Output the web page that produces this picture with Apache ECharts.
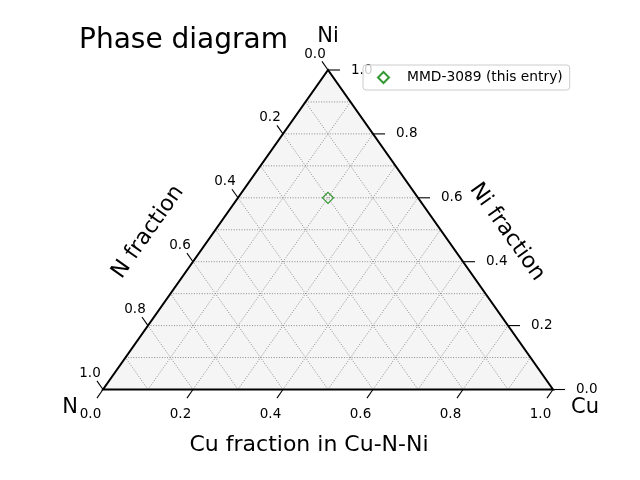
<!DOCTYPE html>
<html>
<head>
<meta charset="utf-8">
<script src="https://cdn.jsdelivr.net/npm/echarts@6/dist/echarts.min.js"></script>
<style>html,body{margin:0;padding:0;background:#fff}#chart{width:640px;height:480px}</style>
</head>
<body>
<div id="chart"></div>
<script>
// ---- data ----
const vertexNames = ['N', 'Cu', 'Ni'];
const tickValues = [0.0, 0.2, 0.4, 0.6, 0.8, 1.0];
const tickLabels = ['0.0', '0.2', '0.4', '0.6', '0.8', '1.0'];
const gridValues = [0.1, 0.2, 0.3, 0.4, 0.5, 0.6, 0.7, 0.8, 0.9];
const axisTitles = ['Cu fraction in Cu-N-Ni', 'N fraction', 'Ni fraction'];
const chartTitle = 'Phase diagram';
const entryNames = ['MMD-3089 (this entry)'];
const entryCu = [0.2];
const entryN = [0.2];
const entryNi = [0.6];

// ternary (Cu, Ni) -> cartesian data coords
function tern(cu, ni) { return [cu + 0.5 * ni, ni]; }

const FONT = 'DejaVu Sans';
const chart = echarts.init(document.getElementById('chart'), null, {renderer: 'canvas'});

function unit(a, b) {
  const dx = b[0] - a[0], dy = b[1] - a[1];
  const l = Math.sqrt(dx * dx + dy * dy);
  return [dx / l, dy / l];
}

// grid line items: [value, family]; family 0: Ni=v, 1: Cu=v, 2: N=v
const gridData = [];
[0, 1, 2].forEach(k => gridValues.forEach(v => gridData.push([v, k])));
// tick items: [value, axis, labelIndex]; axis 0: Cu (bottom), 1: Ni (right), 2: N (left)
const tickData = [];
[0, 1, 2].forEach(k => tickValues.forEach((v, i) => tickData.push([v, k, i])));

const option = {
  animation: false,
  backgroundColor: '#ffffff',
  title: {
    text: chartTitle, left: 79, top: 27, padding: 0,
    textStyle: {fontFamily: FONT, fontSize: 28, fontWeight: 'normal', color: '#000'}
  },
  legend: {
    data: [{name: entryNames[0], icon: 'diamond'}],
    left: 363, top: 65,
    padding: [5.5, 7, 5.5, 14],
    itemWidth: 11, itemHeight: 11,
    backgroundColor: 'rgba(255,255,255,0.8)',
    borderColor: '#cccccc', borderWidth: 1, borderRadius: 3,
    textStyle: {fontFamily: FONT, fontSize: 13.8, color: '#000', padding: [0, 0, 0, 13]},
    selectedMode: false,
    z: 20
  },
  grid: {left: 103, right: 87, top: 70, bottom: 90.5, containLabel: false},
  xAxis: {type: 'value', min: 0, max: 1, show: false},
  yAxis: {type: 'value', min: 0, max: 1, show: false},
  graphic: [
    {type: 'text', x: 328, y: 37, z: 10, style: {text: vertexNames[2], fontFamily: FONT, fontSize: 21, fill: '#000', align: 'center', verticalAlign: 'middle'}},
    {type: 'text', x: 70, y: 408, z: 10, style: {text: vertexNames[0], fontFamily: FONT, fontSize: 21, fill: '#000', align: 'center', verticalAlign: 'middle'}},
    {type: 'text', x: 585, y: 408, z: 10, style: {text: vertexNames[1], fontFamily: FONT, fontSize: 21, fill: '#000', align: 'center', verticalAlign: 'middle'}},
    {type: 'text', x: 309, y: 445.5, z: 10, style: {text: axisTitles[0], fontFamily: FONT, fontSize: 22, fill: '#000', align: 'center', verticalAlign: 'middle'}},
    {type: 'text', x: 148, y: 232, rotation: 54.74 * Math.PI / 180, z: 10, style: {text: axisTitles[1], fontFamily: FONT, fontSize: 22, fill: '#000', align: 'center', verticalAlign: 'middle'}},
    {type: 'text', x: 507, y: 232, rotation: -54.74 * Math.PI / 180, z: 10, style: {text: axisTitles[2], fontFamily: FONT, fontSize: 22, fill: '#000', align: 'center', verticalAlign: 'middle'}}
  ],
  series: [
    { // triangle fill
      type: 'custom', z: 1, silent: true, data: [[0]],
      renderItem: function (params, api) {
        const pts = [api.coord(tern(0, 0)), api.coord(tern(1, 0)), api.coord(tern(0, 1))];
        return {type: 'polygon', shape: {points: pts}, style: {fill: '#f5f5f5', stroke: 'none'}};
      }
    },
    { // dotted grid
      type: 'custom', z: 2, silent: true, data: gridData,
      renderItem: function (params, api) {
        const v = api.value(0), k = api.value(1);
        let a, b;
        if (k === 0) { a = tern(0, v); b = tern(1 - v, v); }
        else if (k === 1) { a = tern(v, 0); b = tern(v, 1 - v); }
        else { a = tern(1 - v, 0); b = tern(0, 1 - v); }
        const p = api.coord(a), q = api.coord(b);
        return {type: 'line', shape: {x1: p[0], y1: p[1], x2: q[0], y2: q[1]},
          style: {stroke: '#808080', lineWidth: 0.9, lineDash: [1, 1.6]}};
      }
    },
    { // triangle edges
      type: 'custom', z: 3, silent: true, data: [[0]],
      renderItem: function (params, api) {
        const pts = [api.coord(tern(0, 0)), api.coord(tern(1, 0)), api.coord(tern(0, 1))];
        return {type: 'polygon', shape: {points: pts}, style: {fill: 'none', stroke: '#000', lineWidth: 2}};
      }
    },
    { // ticks and tick labels
      type: 'custom', z: 3, silent: true, data: tickData,
      renderItem: function (params, api) {
        const v = api.value(0), k = api.value(1), li = api.value(2);
        const pN = api.coord(tern(0, 0)), pCu = api.coord(tern(1, 0)), pNi = api.coord(tern(0, 1));
        let base, dir, len, lx, ly, align;
        if (k === 0) {
          base = api.coord(tern(v, 0));
          dir = unit(pNi, pN); len = 10.5;
          lx = base[0] - 12.5; ly = base[1] + 24.5; align = 'center';
        } else if (k === 1) {
          base = api.coord(tern(1 - v, v));
          dir = [1, 0]; len = 12;
          lx = base[0] + 23; ly = base[1]; align = 'left';
        } else {
          base = api.coord(tern(0, 1 - v));
          dir = unit(pCu, pNi); len = 10.5;
          lx = base[0] - 13; ly = base[1] - 16; align = 'center';
        }
        return {type: 'group', children: [
          {type: 'line', shape: {x1: base[0], y1: base[1], x2: base[0] + dir[0] * len, y2: base[1] + dir[1] * len},
            style: {stroke: '#000', lineWidth: 1.1}},
          {type: 'text', x: lx, y: ly,
            style: {text: tickLabels[li], fontFamily: FONT, fontSize: 13.5, fill: '#000', align: align, verticalAlign: 'middle'}}
        ]};
      }
    },
    {
      name: entryNames[0], type: 'scatter', z: 5,
      symbol: 'diamond', symbolSize: 11,
      itemStyle: {color: 'rgba(0,0,0,0)', borderColor: '#008000', borderWidth: 1.2},
      emphasis: {disabled: true},
      data: entryCu.map((c, i) => tern(c, entryNi[i]))
    }
  ]
};
chart.setOption(option);
</script>
</body>
</html>
